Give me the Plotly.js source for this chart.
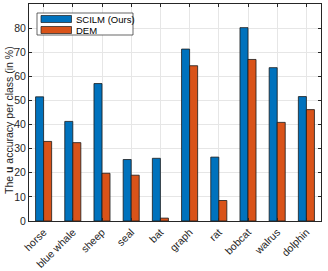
<!DOCTYPE html>
<html><head><meta charset="utf-8">
<script src="https://cdn.plot.ly/plotly-3.0.1.min.js"></script>
<style>html,body{margin:0;padding:0;background:#fff}#c{width:328px;height:271px}</style>
</head><body><div id="c"></div>
<script>
const categories = ["horse","blue whale","sheep","seal","bat","graph","rat","bobcat","walrus","dolphin"];
const scilm = [51.5, 41.3, 57.0, 25.5, 26.0, 71.3, 26.5, 80.2, 63.6, 51.6];
const dem = [33.0, 32.5, 19.8, 19.0, 1.2, 64.4, 8.5, 67.0, 40.9, 46.2];
const seriesNames = ["SCILM (Ours)", "DEM"];
const seriesColors = ["#0072BD", "#D95319"];
const yTicks = [0,10,20,30,40,50,60,70,80,90];

const FF = "Liberation Sans, Arial, sans-serif";
const W = 328, H = 271, M = {l:29, r:7, t:4, b:50};
const pw = W - M.l - M.r, ph = H - M.t - M.b;
const px = x => (x - M.l) / pw;          // pixel -> paper x
const py = y => (H - M.b - y) / ph;      // pixel -> paper y

const traces = [scilm, dem].map((vals, i) => ({
  type:"bar", x:categories, y:vals, name:seriesNames[i], showlegend:false,
  marker:{color:seriesColors[i], line:{color:"#1a1a1a", width:0.8}}
}));

// custom compact legend (MATLAB style)
const shapes = [
  {type:"rect", xref:"paper", yref:"paper", x0:px(37), x1:px(133), y0:py(35), y1:py(13),
   fillcolor:"#fff", line:{color:"#262626", width:0.7}, layer:"above"}
];
const annotations = [];
seriesNames.forEach((n, i) => {
  const top = 15.5 + i*11;
  shapes.push({type:"rect", xref:"paper", yref:"paper", x0:px(41), x1:px(71.5), y0:py(top+7), y1:py(top),
    fillcolor:seriesColors[i], line:{color:"#1a1a1a", width:0.7}, layer:"above"});
  annotations.push({xref:"paper", yref:"paper", x:px(74), y:py(top+3.7), xanchor:"left", yanchor:"middle",
    text:n, showarrow:false, font:{family:FF, size:9.5, color:"#000"}});
});
annotations.push({xref:"paper", yref:"paper", x:px(9), y:py(120), xanchor:"center", yanchor:"middle",
  textangle:-90, text:"The <b>u</b> accuracy per class (in %)", showarrow:false,
  font:{family:FF, size:10.5, color:"#262626"}});

const layout = {
  width:W, height:H, margin:M,
  paper_bgcolor:"#fff", plot_bgcolor:"#fff",
  font:{family:FF, size:10, color:"#262626"},
  barmode:"group", bargap:0.45, bargroupgap:0,
  showlegend:false,
  shapes:shapes, annotations:annotations,
  xaxis:{type:"category", range:[-0.5, 9.5], tickangle:-45, showgrid:true, gridcolor:"#e6e6e6", gridwidth:1,
         ticks:"inside", ticklen:3, tickcolor:"#262626", showline:true, linecolor:"#262626", linewidth:1, mirror:"ticks",
         tickfont:{family:FF, size:10.5, color:"#262626"}, zeroline:false},
  yaxis:{range:[0,90], tickvals:yTicks, showgrid:true, gridcolor:"#e6e6e6", gridwidth:1,
         ticks:"inside", ticklen:3, tickcolor:"#262626", showline:true, linecolor:"#262626", linewidth:1, mirror:"ticks",
         tickfont:{family:FF, size:10.5, color:"#262626"}, zeroline:false}
};
Plotly.newPlot("c", traces, layout, {displayModeBar:false, staticPlot:true});
</script></body></html>
